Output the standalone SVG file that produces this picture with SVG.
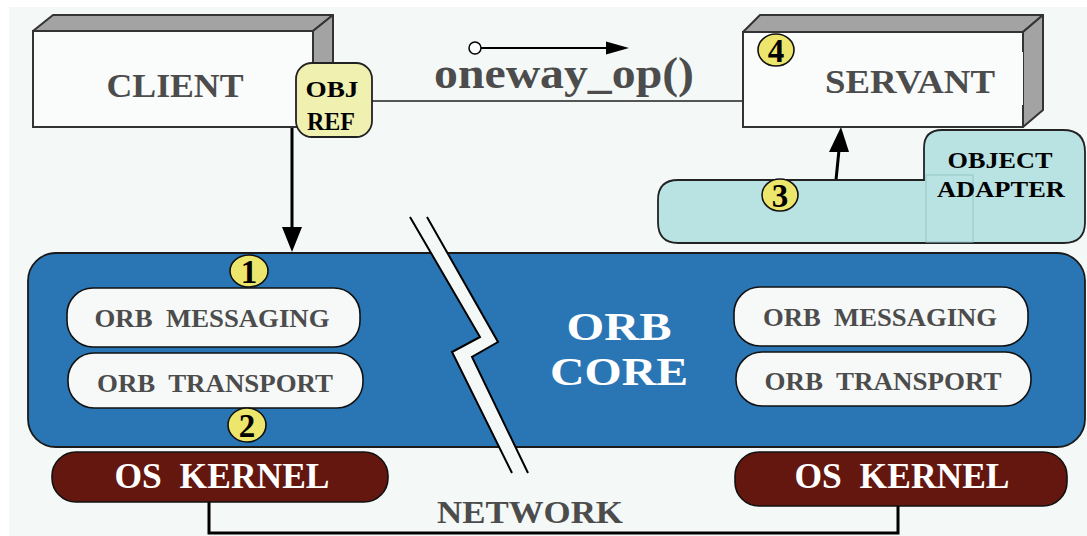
<svg xmlns="http://www.w3.org/2000/svg" width="1087" height="536" viewBox="0 0 1087 536" xml:space="preserve">
<defs>
<style>
.t{font-family:"Liberation Serif","Times New Roman",serif;font-weight:bold;white-space:pre}
.g{fill:#4c4c4c}
.w{fill:#ffffff}
.k{fill:#000000}
.face{fill:#fafcfb;stroke:#333;stroke-width:2}
.side{fill:#a3a3a3;stroke:#333;stroke-width:2;stroke-linejoin:round}
.inner{fill:#f6f9f8;stroke:#111;stroke-width:1.6}
.kern{fill:#64170f;stroke:#111;stroke-width:1.6}
.num{fill:#ede66c;stroke:#111;stroke-width:1.6}
.line{stroke:#000;stroke-width:3;fill:none}
</style>
</defs>
<rect x="0" y="0" width="1087" height="536" fill="#ffffff"/>
<rect x="9" y="7" width="1078" height="529" fill="#f4f8f6"/>

<g id="connectors">
<line x1="372" y1="101" x2="743" y2="101" stroke="#555" stroke-width="2"/>
<path d="M209,502 V533 H898 V506" class="line"/>
<line x1="292" y1="127" x2="292" y2="228" stroke="#000" stroke-width="3"/>
<path d="M282,227 L302,227 L292,252 z" fill="#000"/>
<line x1="836" y1="180" x2="839" y2="150" stroke="#000" stroke-width="3"/>
<path d="M829,152 L849,152 L841,127 z" fill="#000"/>
<circle cx="475" cy="48" r="6" fill="#fff" stroke="#000" stroke-width="1.5"/>
<line x1="481" y1="48" x2="608" y2="48" stroke="#000" stroke-width="2"/>
<path d="M606,41.5 L629,48 L606,54.5 z" fill="#000"/>
</g>

<g id="client">
<path class="side" d="M33,31 L53,15 L333,15 L313,31 z"/>
<path class="side" d="M313,31 L333,15 L333,111 L313,127 z"/>
<rect class="face" x="33" y="31" width="280" height="96"/>
<text class="t g" x="175" y="97" font-size="33" text-anchor="middle" textLength="137" lengthAdjust="spacingAndGlyphs">CLIENT</text>
</g>

<g id="objref">
<rect x="296" y="63" width="76" height="74" rx="16" fill="#f0f0b0" stroke="#222" stroke-width="1.8"/>
<text class="t k" x="332" y="97" font-size="23" text-anchor="middle" textLength="53" lengthAdjust="spacingAndGlyphs">OBJ</text>
<text class="t k" x="331" y="130" font-size="25" text-anchor="middle" textLength="48" lengthAdjust="spacingAndGlyphs">REF</text>
</g>

<g id="oneway">
<text class="t g" x="434" y="88" font-size="45" textLength="260" lengthAdjust="spacingAndGlyphs">oneway_op()</text>
</g>

<g id="servant">
<path class="side" d="M743,32 L760,15 L1043,15 L1023,32 z"/>
<path class="side" d="M1023,32 L1043,15 L1043,110 L1023,127 z"/>
<rect x="743" y="32" width="280" height="95" fill="#fafcfb"/>
<path d="M1023,52 V32 H743 V127 H1023 V105" fill="none" stroke="#333" stroke-width="2"/>
<text class="t g" x="910" y="93" font-size="33" text-anchor="middle" textLength="170" lengthAdjust="spacingAndGlyphs">SERVANT</text>
<ellipse class="num" cx="776" cy="50" rx="18" ry="16"/>
<text class="t k" x="776" y="62" font-size="33" text-anchor="middle">4</text>
</g>

<g id="objadapter">
<path d="M678,180 H924 V148 Q924,130 942,130 H1063 Q1085,130 1085,152 V222 Q1085,243 1064,243 H678 Q658,243 658,222 V200 Q658,180 678,180 z" fill="#b9e2e2" stroke="#222" stroke-width="1.8"/>
<rect x="926" y="175" width="47" height="67" fill="none" stroke="#93c4c4" stroke-width="1"/>
<text class="t k" x="1000" y="168" font-size="23" text-anchor="middle" textLength="105" lengthAdjust="spacingAndGlyphs">OBJECT</text>
<text class="t k" x="1001" y="197" font-size="23" text-anchor="middle" textLength="128" lengthAdjust="spacingAndGlyphs">ADAPTER</text>
<ellipse class="num" cx="780" cy="195" rx="18" ry="16"/>
<text class="t k" x="780" y="207" font-size="33" text-anchor="middle">3</text>
</g>

<g id="orbcore">
<rect x="28" y="253" width="1057" height="194" rx="28" fill="#2a76b5" stroke="#1a1a1a" stroke-width="1.8"/>
<polygon points="410,217 480,337 452,352 512,473 528,473 472,357 498,342 427,217" fill="#f4f8f6"/>
<polyline points="410,217 480,337 452,352 512,473" fill="none" stroke="#000" stroke-width="2"/>
<polyline points="427,217 498,342 472,357 528,473" fill="none" stroke="#000" stroke-width="2"/>
<text class="t w" x="619" y="340" font-size="40" text-anchor="middle" textLength="105" lengthAdjust="spacingAndGlyphs">ORB</text>
<text class="t w" x="619" y="385" font-size="40" text-anchor="middle" textLength="138" lengthAdjust="spacingAndGlyphs">CORE</text>
</g>

<g id="left-messaging">
<rect class="inner" x="67" y="288" width="293" height="59" rx="26"/>
<text class="t g" x="212" y="327" font-size="25" text-anchor="middle" textLength="235" lengthAdjust="spacingAndGlyphs">ORB  MESSAGING</text>
</g>
<g id="left-transport">
<rect class="inner" x="68" y="353" width="295" height="55" rx="26"/>
<text class="t g" x="215" y="392" font-size="25" text-anchor="middle" textLength="236" lengthAdjust="spacingAndGlyphs">ORB  TRANSPORT</text>
</g>
<g id="right-messaging">
<rect class="inner" x="734" y="287" width="294" height="59" rx="26"/>
<text class="t g" x="880" y="326" font-size="25" text-anchor="middle" textLength="234" lengthAdjust="spacingAndGlyphs">ORB  MESSAGING</text>
</g>
<g id="right-transport">
<rect class="inner" x="736" y="352" width="295" height="54" rx="26"/>
<text class="t g" x="883" y="390" font-size="25" text-anchor="middle" textLength="237" lengthAdjust="spacingAndGlyphs">ORB  TRANSPORT</text>
</g>

<g id="step1">
<ellipse class="num" cx="249" cy="271" rx="19" ry="16"/>
<text class="t k" x="249" y="283" font-size="33" text-anchor="middle">1</text>
</g>
<g id="step2">
<ellipse class="num" cx="247" cy="425" rx="19" ry="17"/>
<text class="t k" x="247" y="437" font-size="33" text-anchor="middle">2</text>
</g>

<g id="left-kernel">
<rect class="kern" x="52" y="452" width="336" height="50" rx="24"/>
<text class="t w" x="222" y="488" font-size="35" text-anchor="middle" textLength="215" lengthAdjust="spacingAndGlyphs">OS  KERNEL</text>
</g>
<g id="right-kernel">
<rect class="kern" x="735" y="452" width="332" height="54" rx="24"/>
<text class="t w" x="902" y="488" font-size="35" text-anchor="middle" textLength="215" lengthAdjust="spacingAndGlyphs">OS  KERNEL</text>
</g>

<g id="network">
<text class="t g" x="530" y="523" font-size="31" text-anchor="middle" textLength="186" lengthAdjust="spacingAndGlyphs">NETWORK</text>
</g>
</svg>
